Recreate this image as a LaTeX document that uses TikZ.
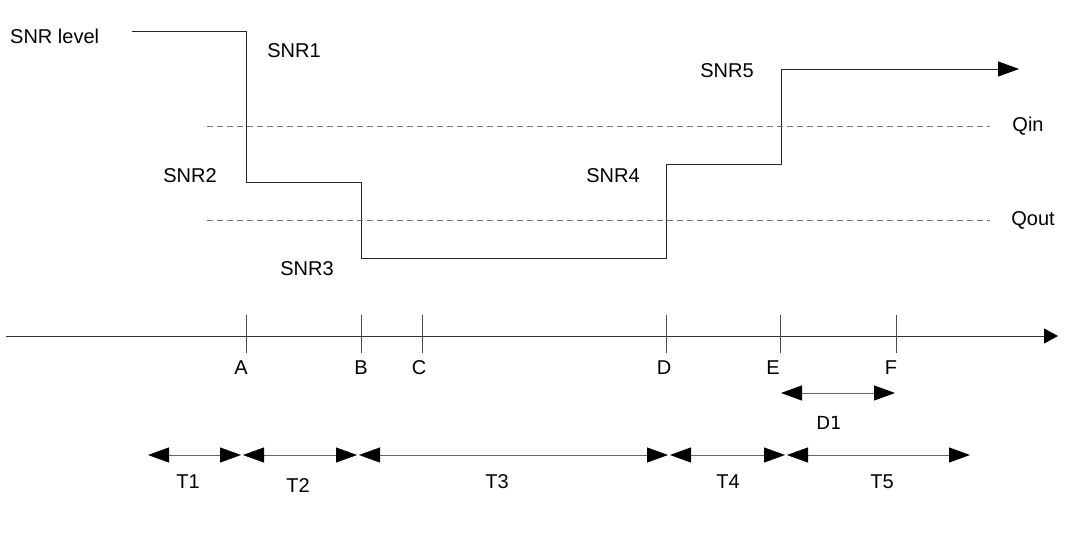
\documentclass[tikz,border=0pt]{standalone}
\usepackage{fontspec}
\setmainfont{Liberation Sans}
\newfontfamily\dvfont{DejaVu Sans}
\usetikzlibrary{arrows.meta}
\begin{document}
\begin{tikzpicture}[x=1pt,y=-1pt,
  lbl/.style={font=\fontsize{20}{24}\selectfont, inner sep=0pt},
  bigtip/.tip={Triangle[length=21pt,width=15pt,color=black,fill=black]},
  big/.style={-bigtip},
  dbl/.style={bigtip-bigtip, draw=black!60, line width=0.9pt},
  thr/.style={dash pattern=on 6pt off 4pt, draw=black!55, line width=0.9pt},
  tick/.style={draw=black!70, line width=0.9pt}]
\useasboundingbox (0,0) rectangle (1066,543);
% step curve
\coordinate (s0) at (132,31);
\coordinate (s1) at (246,31);
\coordinate (s2) at (246,182);
\coordinate (s3) at (361,182);
\coordinate (s4) at (361,258);
\coordinate (s5) at (666,258);
\coordinate (s6) at (666,164);
\coordinate (s7) at (781,164);
\coordinate (s8) at (781,69);
\coordinate (s9) at (1019,69);
\draw[big, line width=0.9pt, draw=black!85] (s0) -- (s1) -- (s2) -- (s3) -- (s4) -- (s5) -- (s6) -- (s7) -- (s8) -- (s9);
\node[lbl, anchor=west] (lev) at (10,36) {SNR level};
\node[lbl] (snr1) at (294,51) {SNR1};
\node[lbl] (snr2) at (190,176) {SNR2};
\node[lbl] (snr3) at (307,269) {SNR3};
\node[lbl] (snr4) at (613,176) {SNR4};
\node[lbl] (snr5) at (727,71) {SNR5};
% thresholds
\coordinate (qi0) at (207,126); \coordinate (qi1) at (990,126);
\coordinate (qo0) at (207,220); \coordinate (qo1) at (990,220);
\draw[thr] (qi0) -- (qi1);
\draw[thr] (qo0) -- (qo1);
\node[lbl] (qin) at (1028,126) {Qin};
\node[lbl] (qout) at (1033,220) {Qout};
% time axis
\coordinate (ax0) at (6,336); \coordinate (ax1) at (1058,336);
\draw[-{Triangle[length=14pt,width=15pt,color=black,fill=black]}, line width=0.9pt, draw=black!80] (ax0) -- (ax1);
\foreach \n/\x/\lx in {A/246/241,B/361/361,C/422/419,D/666/664,E/780/773,F/896/891}{
  \draw[tick] (\x,315) -- (\x,353);
  \node[lbl] (l\n) at (\lx,368) {\n};
}
% D1
\coordinate (d0) at (781,393); \coordinate (d1) at (895,393);
\draw[dbl] (d0) -- (d1);
\node[lbl, font=\dvfont\fontsize{18}{22}\selectfont] (dl) at (829,423) {D1};
% T intervals
\coordinate (t0) at (148,455);
\coordinate (t1a) at (241,455); \coordinate (t1b) at (243,455);
\coordinate (t2a) at (357,455); \coordinate (t2b) at (359,455);
\coordinate (t3a) at (668,455); \coordinate (t3b) at (670,455);
\coordinate (t4a) at (785,455); \coordinate (t4b) at (787,455);
\coordinate (t5) at (970,455);
\draw[dbl] (t0) -- (t1a);
\draw[dbl] (t1b) -- (t2a);
\draw[dbl] (t2b) -- (t3a);
\draw[dbl] (t3b) -- (t4a);
\draw[dbl] (t4b) -- (t5);
\node[lbl] (T1) at (188,482) {T1};
\node[lbl] (T2) at (298,486) {T2};
\node[lbl] (T3) at (497,482) {T3};
\node[lbl] (T4) at (728,482) {T4};
\node[lbl] (T5) at (882,482) {T5};
\end{tikzpicture}
\end{document}
